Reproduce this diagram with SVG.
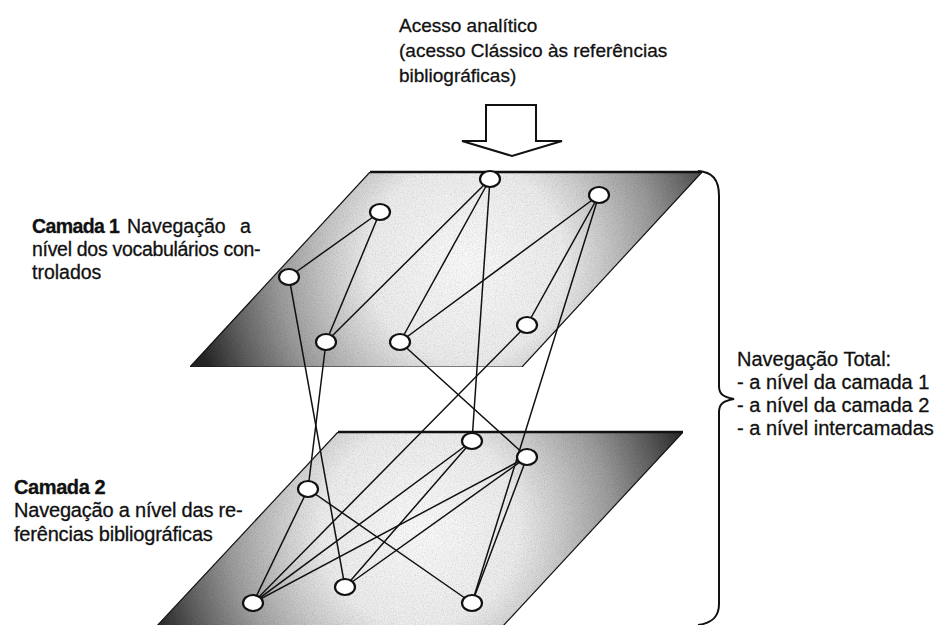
<svg xmlns="http://www.w3.org/2000/svg" width="939" height="625" viewBox="0 0 939 625">
<style>
 .t{font-family:"Liberation Sans",Arial,Helvetica,sans-serif;fill:#111;stroke:#111;stroke-width:0.3;}
 .b{font-weight:bold;}
 .edge{stroke:#111;stroke-width:1.5;fill:none;stroke-linecap:round;}
 .node ellipse{fill:#fff;stroke:#111;stroke-width:2.2;}
 .plane{stroke:#1a1a1a;stroke-width:1.2;}
 .topedge{stroke:#111;stroke-width:2.5;}
</style>
<defs>
 <radialGradient id="g1" gradientUnits="userSpaceOnUse" cx="466" cy="262" r="280">
  <stop offset="0" stop-color="#fafafa"/>
  <stop offset="0.35" stop-color="#ececec"/>
  <stop offset="0.5" stop-color="#c8c8c8"/>
  <stop offset="0.68" stop-color="#9a9a9a"/>
  <stop offset="0.85" stop-color="#606060"/>
  <stop offset="1" stop-color="#262626"/>
 </radialGradient>
 <radialGradient id="g2" gradientUnits="userSpaceOnUse" cx="420" cy="528" r="282">
  <stop offset="0" stop-color="#fafafa"/>
  <stop offset="0.35" stop-color="#ececec"/>
  <stop offset="0.5" stop-color="#cacaca"/>
  <stop offset="0.68" stop-color="#9c9c9c"/>
  <stop offset="0.85" stop-color="#606060"/>
  <stop offset="1" stop-color="#262626"/>
 </radialGradient>
 <filter id="grain" x="0" y="0" width="100%" height="100%">
  <feTurbulence type="fractalNoise" baseFrequency="0.9" numOctaves="2" seed="4" result="noise"/>
  <feColorMatrix in="noise" type="matrix" values="0 0 0 0 0  0 0 0 0 0  0 0 0 0 0  0.5 0 0 0 -0.2" result="dots"/>
  <feComposite in="dots" in2="SourceGraphic" operator="in" result="clip"/>
  <feMerge><feMergeNode in="SourceGraphic"/><feMergeNode in="clip"/></feMerge>
 </filter>
</defs>
<rect width="939" height="625" fill="#fff"/>

<!-- top text and arrow -->
<g id="access-text">
 <text class="t" font-size="19" x="399" y="32">Acesso analítico</text>
 <text class="t" font-size="19" x="399" y="57">(acesso Clássico às referências</text>
 <text class="t" font-size="19" x="399" y="82">bibliográficas)</text>
</g>
<g id="access-arrow">
 <polygon points="486,105 536,105 536,141 562,141 512,156 462,141 486,141" fill="#fff" stroke="#111" stroke-width="2" stroke-linejoin="miter"/>
</g>

<!-- planes -->
<g id="layer1-plane">
 <polygon class="plane" points="370,172 702,172 522,367 190,367" fill="url(#g1)" filter="url(#grain)"/>
 <line class="topedge" x1="370" y1="172" x2="702" y2="172"/>
</g>
<g id="layer2-plane">
 <polygon class="plane" points="338,432 683,432 502,627 156,627" fill="url(#g2)" filter="url(#grain)"/>
 <line class="topedge" x1="338" y1="432" x2="683" y2="432"/>
</g>

<!-- connectors -->
<g id="connectors">
 <line class="edge" x1="289" y1="277" x2="380" y2="212"/>
 <line class="edge" x1="380" y1="212" x2="326" y2="342"/>
 <line class="edge" x1="326" y1="342" x2="490" y2="179"/>
 <line class="edge" x1="400" y1="342" x2="490" y2="179"/>
 <line class="edge" x1="400" y1="342" x2="599" y2="195"/>
 <line class="edge" x1="527" y1="325" x2="599" y2="195"/>
 <line class="edge" x1="490" y1="179" x2="472" y2="441"/>
 <line class="edge" x1="289" y1="277" x2="345" y2="587"/>
 <line class="edge" x1="326" y1="342" x2="308" y2="489"/>
 <line class="edge" x1="400" y1="342" x2="527" y2="457"/>
 <line class="edge" x1="527" y1="325" x2="253" y2="603"/>
 <line class="edge" x1="599" y1="195" x2="472" y2="603"/>
 <line class="edge" x1="472" y1="441" x2="253" y2="603"/>
 <line class="edge" x1="472" y1="441" x2="345" y2="587"/>
 <line class="edge" x1="527" y1="457" x2="253" y2="603"/>
 <line class="edge" x1="527" y1="457" x2="345" y2="587"/>
 <line class="edge" x1="527" y1="457" x2="472" y2="603"/>
 <line class="edge" x1="308" y1="489" x2="253" y2="603"/>
 <line class="edge" x1="308" y1="489" x2="472" y2="603"/>
</g>

<!-- layer 1 nodes -->
<g id="n1" class="node"><ellipse cx="490" cy="179" rx="10" ry="8"/></g>
<g id="n2" class="node"><ellipse cx="599" cy="195" rx="10" ry="8"/></g>
<g id="n3" class="node"><ellipse cx="380" cy="212" rx="10" ry="8"/></g>
<g id="n4" class="node"><ellipse cx="289" cy="277" rx="10" ry="8"/></g>
<g id="n5" class="node"><ellipse cx="326" cy="342" rx="10" ry="8"/></g>
<g id="n6" class="node"><ellipse cx="400" cy="342" rx="10" ry="8"/></g>
<g id="n7" class="node"><ellipse cx="527" cy="325" rx="10" ry="8"/></g>
<!-- layer 2 nodes -->
<g id="m1" class="node"><ellipse cx="472" cy="441" rx="10" ry="8"/></g>
<g id="m2" class="node"><ellipse cx="527" cy="457" rx="10" ry="8"/></g>
<g id="m3" class="node"><ellipse cx="308" cy="489" rx="10" ry="8"/></g>
<g id="m4" class="node"><ellipse cx="345" cy="587" rx="10" ry="8"/></g>
<g id="m5" class="node"><ellipse cx="253" cy="603" rx="10" ry="8"/></g>
<g id="m6" class="node"><ellipse cx="472" cy="603" rx="10" ry="8"/></g>

<!-- layer labels -->
<g id="layer1-label" class="t" font-size="19.5">
 <text y="233"><tspan class="b" x="32" letter-spacing="-0.6">Camada 1</tspan><tspan x="127">Navegação</tspan><tspan x="240">a</tspan></text>
 <text x="32" y="256" letter-spacing="-0.3">nível dos vocabulários con-</text>
 <text x="32" y="279">trolados</text>
</g>
<g id="layer2-label" class="t" font-size="20">
 <text x="14" y="494" class="b" letter-spacing="-0.4">Camada 2</text>
 <text x="14" y="517" letter-spacing="-0.2">Navegação a nível das re-</text>
 <text x="14" y="541" letter-spacing="-0.2">ferências bibliográficas</text>
</g>

<!-- brace and total navigation -->
<g id="brace">
 <path d="M698 171 C712 172 719 179 719 196 L719 386 C719 394 723 397 734 399 C723 401 719 404 719 412 L719 604 C719 617 712 623 698 625" fill="none" stroke="#111" stroke-width="2"/>
</g>
<g id="total-label" class="t" font-size="20">
 <text x="737" y="366">Navegação Total:</text>
 <text x="737" y="389">- a nível da camada 1</text>
 <text x="737" y="412">- a nível da camada 2</text>
 <text x="737" y="435">- a nível intercamadas</text>
</g>
</svg>
